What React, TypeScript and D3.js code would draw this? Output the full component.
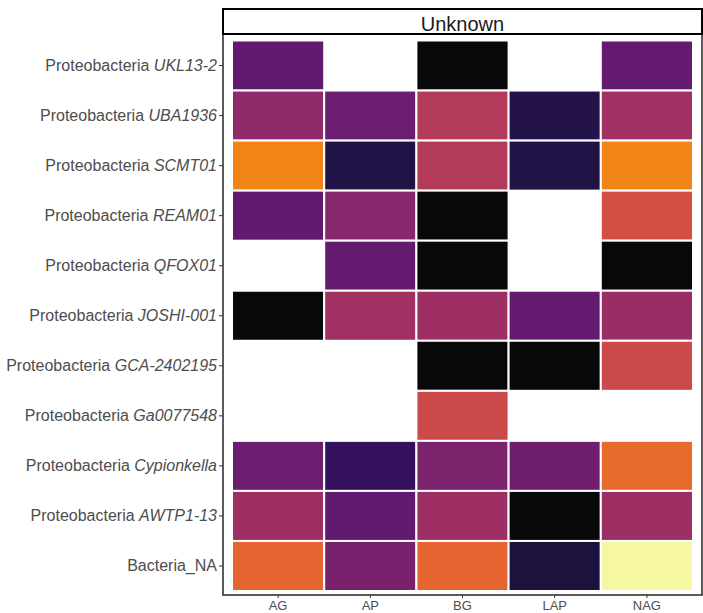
import * as d3 from "d3";

const W = 703;
const H = 613;

const enzymes = ["AG", "AP", "BG", "LAP", "NAG"];

// genus label: [prefix, italic part]
const taxa: [string, string][] = [
  ["Proteobacteria ", "UKL13-2"],
  ["Proteobacteria ", "UBA1936"],
  ["Proteobacteria ", "SCMT01"],
  ["Proteobacteria ", "REAM01"],
  ["Proteobacteria ", "QFOX01"],
  ["Proteobacteria ", "JOSHI-001"],
  ["Proteobacteria ", "GCA-2402195"],
  ["Proteobacteria ", "Ga0077548"],
  ["Proteobacteria ", "Cypionkella"],
  ["Proteobacteria ", "AWTP1-13"],
  ["Bacteria_NA", ""],
];

// scaled values per row (AG, AP, BG, LAP, NAG); null = no data
const values: (number | null)[][] = [
  [0.27, null, 0.0, null, 0.28],
  [0.39, 0.3, 0.49, 0.12, 0.44],
  [0.73, 0.11, 0.49, 0.115, 0.73],
  [0.27, 0.37, 0.0, null, 0.58],
  [null, 0.28, 0.0, null, 0.0],
  [0.0, 0.44, 0.43, 0.28, 0.42],
  [null, null, 0.0, 0.0, 0.56],
  [null, null, 0.56, null, null],
  [0.3, 0.16, 0.34, 0.31, 0.67],
  [0.43, 0.27, 0.43, 0.0, 0.43],
  [0.65, 0.33, 0.65, 0.1, 1.0],
];

const panel = { left: 223, right: 702, top: 34, bottom: 595 };
const strip = { top: 9, bottom: 34 };

export default function App() {
  const x = d3.scaleBand<string>().domain(enzymes).range([232, 693]);
  const y = d3
    .scaleBand<string>()
    .domain(taxa.map((t) => t[0] + t[1]))
    .range([40.5, 591]);
  const inferno = d3.scaleSequential(d3.interpolateInferno).domain([0, 1]);
  // the reference palette looks a touch muted
  const color = (v: number) => d3.interpolateRgb(inferno(v), "#808080")(0.06);

  const cells = taxa.flatMap((t, i) =>
    enzymes.map((e, j) => ({ row: t[0] + t[1], col: e, v: values[i][j] }))
  );

  const font = "'Liberation Sans', Arial, Helvetica, sans-serif";

  return (
    <svg
      width={W}
      height={H}
      style={{ position: "absolute", left: 0, top: 0, background: "#fff" }}
      fontFamily={font}
    >
      {/* tiles */}
      {cells
        .filter((c) => c.v !== null)
        .map((c) => (
          <rect
            key={c.row + c.col}
            x={x(c.col)}
            y={y(c.row)}
            width={x.bandwidth()}
            height={y.bandwidth()}
            fill={color(c.v as number)}
            stroke="#fff"
            strokeWidth={2}
          />
        ))}

      {/* panel border */}
      <rect
        x={panel.left}
        y={panel.top}
        width={panel.right - panel.left}
        height={panel.bottom - panel.top}
        fill="none"
        stroke="#333"
        strokeWidth={1.6}
      />

      {/* strip */}
      <rect
        x={panel.left}
        y={strip.top}
        width={panel.right - panel.left}
        height={strip.bottom - strip.top}
        fill="#fff"
        stroke="#000"
        strokeWidth={2}
      />
      <text
        x={(panel.left + panel.right) / 2}
        y={30.5}
        textAnchor="middle"
        fontSize={20}
        fill="#1a1a1a"
      >
        Unknown
      </text>

      {/* y axis */}
      {taxa.map((t) => {
        const cy = (y(t[0] + t[1]) as number) + y.bandwidth() / 2;
        return (
          <g key={t[0] + t[1]}>
            <line x1={panel.left - 4} x2={panel.left} y1={cy} y2={cy} stroke="#333" strokeWidth={1} />
            <text x={panel.left - 6} y={cy + 5.5} textAnchor="end" fontSize={16} fill="#4d4d4d">
              {t[0]}
              {t[1] && <tspan fontStyle="italic">{t[1]}</tspan>}
            </text>
          </g>
        );
      })}

      {/* x axis */}
      {enzymes.map((e) => {
        const cx = (x(e) as number) + x.bandwidth() / 2;
        return (
          <g key={e}>
            <line x1={cx} x2={cx} y1={panel.bottom} y2={panel.bottom + 3} stroke="#333" strokeWidth={1} />
            <text x={cx} y={609.5} textAnchor="middle" fontSize={13} fill="#4d4d4d">
              {e}
            </text>
          </g>
        );
      })}
    </svg>
  );
}
